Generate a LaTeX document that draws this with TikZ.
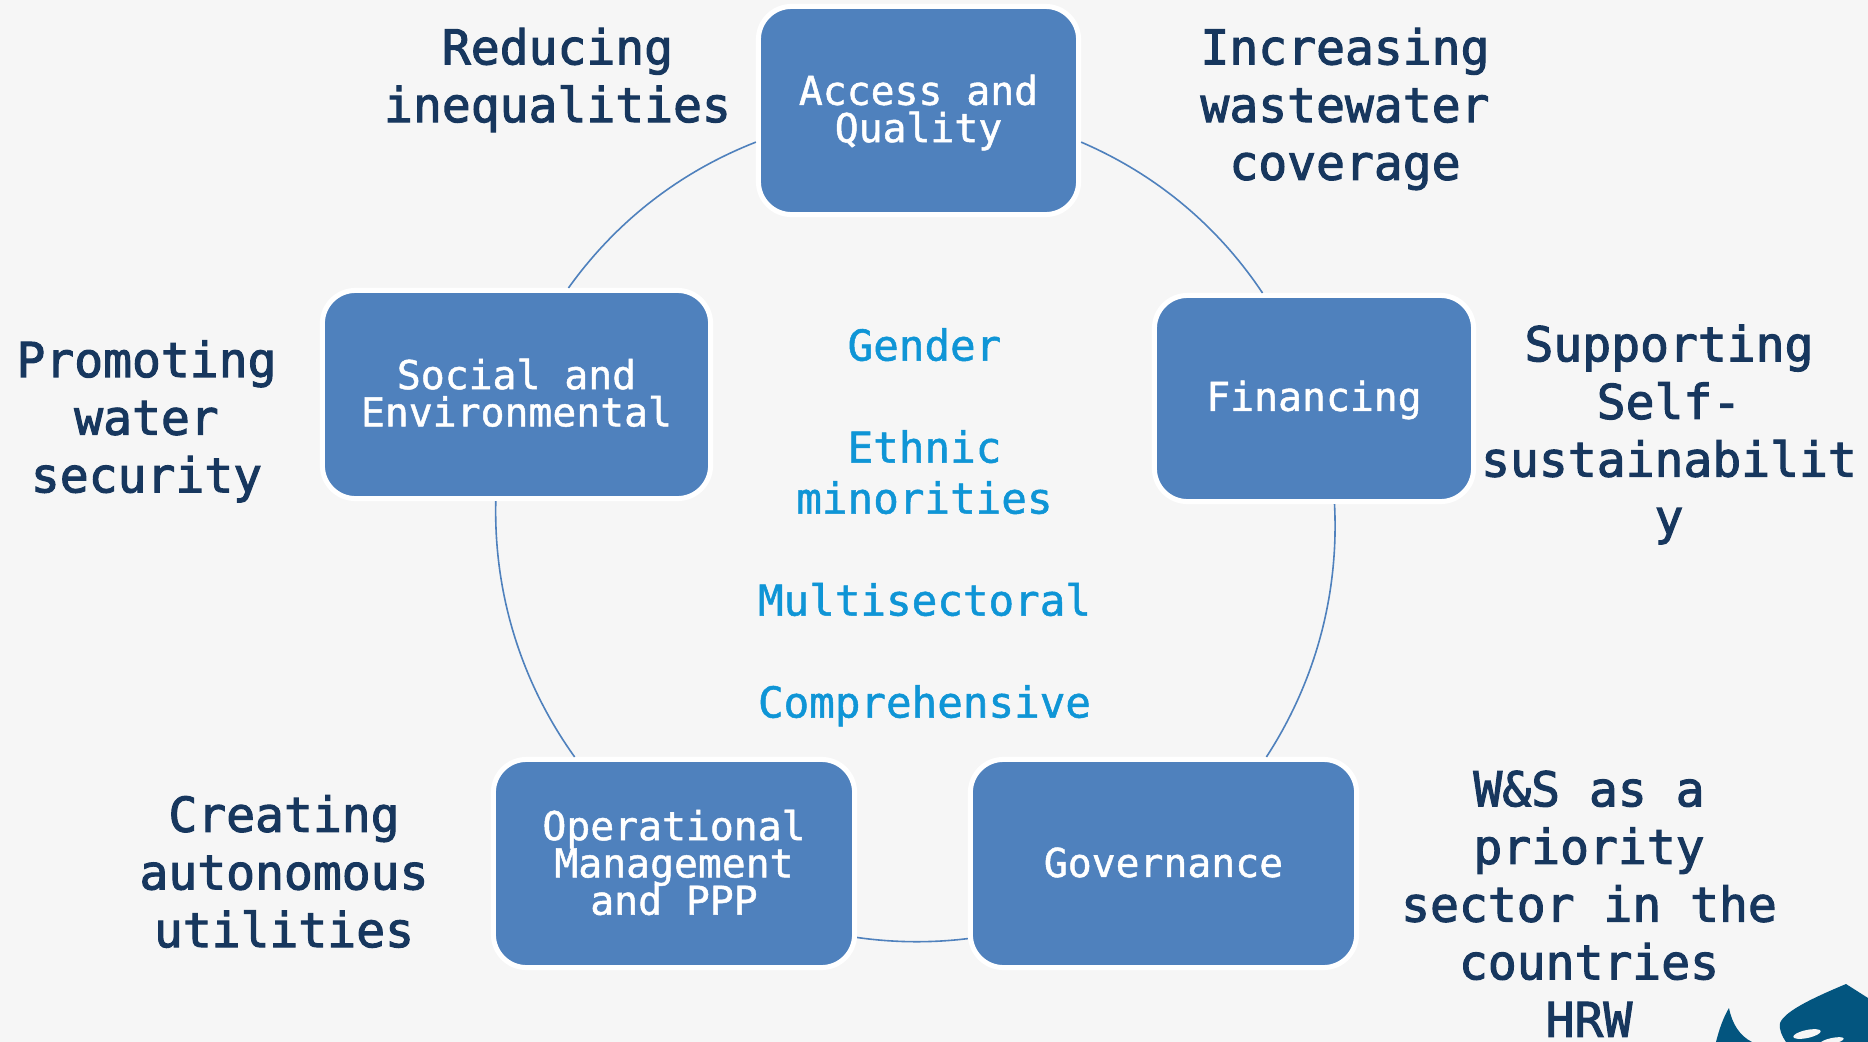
\documentclass[tikz,border=0pt]{standalone}
\usepackage{fontspec}
\setmonofont{DejaVu Sans Mono}
\newfontfamily\goalfont[FakeBold=2.2]{DejaVu Sans Mono}
\newfontfamily\boxfont[FakeBold=1.2]{DejaVu Sans Mono}
\usetikzlibrary{calc}
\definecolor{color_page}{HTML}{F6F6F6}
\definecolor{color_box}{HTML}{4F81BD}
\definecolor{color_goal}{HTML}{17375E}
\definecolor{color_cross}{HTML}{0F95D6}
\definecolor{color_logo}{HTML}{03557F}
\def\tightlines{\setlength{\lineskiplimit}{-5pt}}
\tikzset{
    pillar/.style={draw=white, fill=color_box, line width=0.05cm, rounded corners=0.33cm, inner sep=0pt},
    pillartext/.style={inner sep=0pt, align=center, text=white, font=\fontsize{11.3}{10.6}\selectfont\boxfont\tightlines},
    goal/.style={inner sep=0pt, align=center, text=color_goal, font=\fontsize{13.65}{16.4}\selectfont\goalfont},
    cross/.style={inner sep=0pt, align=center, text=color_cross, font=\fontsize{12.1}{14.5}\selectfont\boxfont},
    ring/.style={color_box, line width=0.016cm}
}
\begin{document}
\begin{tikzpicture}[x=0.01cm,y=-0.01cm]
    \fill[color_page] (0,0) rectangle (1868,1042);
    \useasboundingbox (0,0) rectangle (1868,1042);
    % logo in the corner, cut by the page edge
    \begin{scope}
        \clip (0,0) rectangle (1868,1042);
        \fill[color_logo] (1729,1008) .. controls (1732,1024) and (1740,1036) .. (1752,1042) -- (1716,1042) .. controls (1719,1030) and (1723,1018) .. (1729,1008) -- cycle;
        \fill[color_logo] (1780,1023) .. controls (1785,1010) and (1820,995) .. (1846,984) -- (1868,998) -- (1868,1042) -- (1786,1042) .. controls (1782,1036) and (1779,1030) .. (1780,1023) -- cycle;
        \fill[color_page, rotate around={12:(1807,1034)}] (1807,1034) ellipse (14 and 4);
        \fill[color_page, rotate around={12:(1832,1041)}] (1832,1041) ellipse (12 and 3);
    \end{scope}
    % the five pillars
    \node[pillar, minimum width=3.20cm, minimum height=2.08cm] (access) at (918.5,110.5) {};
    \node[pillar, minimum width=3.19cm, minimum height=2.06cm] (financing) at (1314,398.5) {};
    \node[pillar, minimum width=3.86cm, minimum height=2.08cm] (governance) at (1163.5,863.5) {};
    \node[pillar, minimum width=3.61cm, minimum height=2.08cm] (operational) at (674,863.5) {};
    \node[pillar, minimum width=3.88cm, minimum height=2.08cm] (social) at (516.5,394.5) {};
    \node[pillartext] (accesstext) at (918.5,112.5) {Access and\\Quality};
    \node[pillartext] (financingtext) at (1314,400) {Financing};
    \node[pillartext] (governancetext) at (1163.5,862.5) {Governance};
    \node[pillartext] (operationaltext) at (674,862.5) {Operational\\Management\\and PPP};
    \node[pillartext] (socialtext) at (516.5,392.8) {Social and\\Environmental};
    % ring between the pillars
    \foreach \from/\to/\bendby/\loose in {access.-11.3/financing.116/16.5/0.88, financing.-79.5/governance.46.5/18/0.88, governance.201.3/operational.-22.4/7.5/0.86, operational.133.6/social.-101/18.5/0.88, social.64.4/access.191.6/16.5/0.88}
        \draw[ring] (\from) to[bend left=\bendby, looseness=\loose] (\to);
    % what each pillar aims at
    \node[goal] (reducing) at (557.5,80) {Reducing\\inequalities};
    \node[goal] (increasing) at (1345,109) {Increasing\\wastewater\\coverage};
    \node[goal] (supporting) at (1669,434.5) {Supporting\\Self-\\sustainabilit\\y};
    \node[goal] (priority) at (1589,903.8) {W\&S as a\\priority\\sector in the\\countries\\HRW};
    \node[goal] (creating) at (284,871.5) {Creating\\autonomous\\utilities};
    \node[goal] (promoting) at (146.5,421.4) {Promoting\\water\\security};
    % cross-cutting themes
    \node[cross] (themes) at (924.5,527.3) {Gender\\[14.5pt]Ethnic\\minorities\\[14.5pt]Multisectoral\\[14.5pt]Comprehensive};
\end{tikzpicture}
\end{document}
